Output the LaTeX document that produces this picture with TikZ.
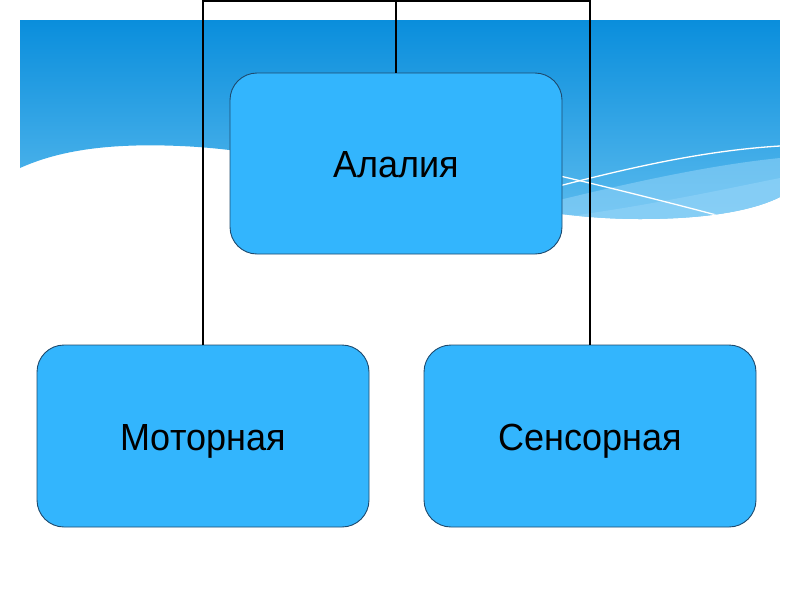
\documentclass[tikz,border=0pt]{standalone}
\usepackage{fontspec}
\setmainfont{Liberation Sans}
\definecolor{boxblue}{HTML}{33B5FD}
\definecolor{boxline}{HTML}{1E4A6E}
\definecolor{bandtop}{HTML}{0A8EDC}
\definecolor{bandbot}{HTML}{5BBBEE}
\definecolor{lightwave}{HTML}{8DD1F7}
\newcommand{\boxlabel}[1]{\raisebox{-14pt}[0pt][0pt]{\scalebox{1}[1.05]{#1}}}
\tikzset{
  catbox/.style={draw=boxline, line width=0.9pt, fill=boxblue, rounded corners=27pt,
    minimum width=332pt, minimum height=182pt, inner sep=0pt,
    font=\fontsize{36}{40}\selectfont},
  link/.style={draw=black, line width=1.8pt}
}
\begin{document}
\begin{tikzpicture}[x=1pt,y=-1pt]
\useasboundingbox (0,0) rectangle (800,600);
\fill[white] (0,0) rectangle (800,600);
% background band
\begin{scope}
  \clip (20,20) -- (780,20) -- (780,197)
     .. controls (760,207) and (720,219) .. (640,219)
     .. controls (480,219) and (330,152) .. (180,146)
     .. controls (110,143) and (60,150) .. (20,168) -- cycle;
  \shade[top color=bandtop, bottom color=bandbot] (20,20) rectangle (780,222);
  \fill[lightwave, opacity=0.6] (470,222) .. controls (560,200) and (680,168) .. (780,158) -- (780,222) -- cycle;
  \fill[lightwave, opacity=0.7] (520,222) .. controls (620,212) and (720,190) .. (780,178) -- (780,222) -- cycle;
  \draw[white, line width=1.3pt] (480,158) .. controls (560,175) and (660,200) .. (720,216);
  \draw[white, line width=1.3pt] (470,210) .. controls (580,180) and (680,152) .. (780,146);
\end{scope}
% nodes
\node[catbox, minimum height=181pt] (ala) at (396,163.5) {\boxlabel{Алалия}};
\node[catbox] (mot) at (203,436) {\boxlabel{Моторная}};
\node[catbox] (sen) at (590,436) {\boxlabel{Сенсорная}};
\coordinate (t) at (396,1);
% connectors
\draw[link] (mot.north) |- (t) -| (sen.north);
\draw[link] (ala.north) -- (t);
\end{tikzpicture}
\end{document}
